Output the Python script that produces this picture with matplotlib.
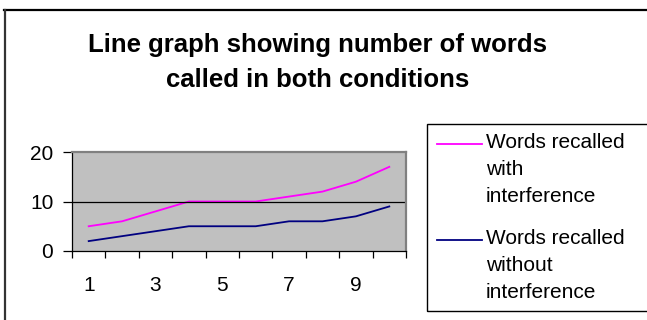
import matplotlib.pyplot as plt
from matplotlib.patches import Rectangle
from matplotlib.lines import Line2D

trials = [1, 2, 3, 4, 5, 6, 7, 8, 9, 10]
with_interference = [5, 6, 8, 10, 10, 10, 11, 12, 14, 17]
without_interference = [2, 3, 4, 5, 5, 5, 6, 6, 7, 9]
y_ticks = [0, 10, 20]
x_ticklabels = ["1", "", "3", "", "5", "", "7", "", "9", ""]
series_names = ["Words recalled\nwith\ninterference",
                "Words recalled\nwithout\ninterference"]

plt.rcParams['font.family'] = ['Liberation Sans', 'DejaVu Sans']

W, H = 647, 320
fig = plt.figure(figsize=(W / 100, H / 100), dpi=100)


def fx(px):
    return px / W


def fy(py):
    return 1 - py / H


# outer chart frame
fig.add_artist(Line2D([fx(4), fx(647)], [fy(9.5), fy(9.5)], color="black", lw=1.6))
fig.add_artist(Line2D([fx(4.5), fx(4.5)], [fy(9.5), fy(320)], color="#333333", lw=1.6))

fig.text(fx(318), fy(45), "Line graph showing number of words", ha="center", va="center",
         fontsize=18.5, fontweight="bold")
fig.text(fx(318), fy(80), "called in both conditions", ha="center", va="center",
         fontsize=18.5, fontweight="bold")

ax = fig.add_axes([fx(72), fy(251), fx(406) - fx(72), fy(152) - fy(251)])
ax.set_facecolor("#C0C0C0")
ax.plot(trials, with_interference, color="#FF00FF", lw=1.3)
ax.plot(trials, without_interference, color="#000080", lw=1.3)
ax.set_xlim(0.5, 10.5)
ax.set_ylim(0, 20)
ax.axhline(10, color="black", lw=0.9)

ax.set_yticks(y_ticks)
ax.set_yticklabels([str(v) for v in y_ticks], fontsize=15)
ax.tick_params(axis="y", direction="out", length=6.5, width=0.9, pad=7)

# category ticks sit between the points, labels under every other point
ax.set_xticks([t - 0.5 for t in trials] + [10.5])
ax.set_xticklabels([])
ax.set_xticks(trials, minor=True)
ax.set_xticklabels(x_ticklabels, minor=True, fontsize=15)
ax.tick_params(axis="x", which="major", direction="out", length=5, width=0.9)
ax.tick_params(axis="x", which="minor", length=0, pad=18)

for side in ("top", "right"):
    ax.spines[side].set_color("#808080")
    ax.spines[side].set_linewidth(1.6)
for side in ("left", "bottom"):
    ax.spines[side].set_color("black")
    ax.spines[side].set_linewidth(0.9)

# legend box
fig.add_artist(Rectangle((fx(427), fy(311)), fx(660) - fx(427), fy(124) - fy(311),
                         transform=fig.transFigure, fill=False, ec="black", lw=1.0))
colors = ["#FF00FF", "#000080"]
for i, (name, c) in enumerate(zip(series_names, colors)):
    y0 = 143.5 + i * 96
    fig.add_artist(Line2D([fx(437), fx(482)], [fy(y0), fy(y0)], color=c, lw=1.3))
    fig.text(fx(486), fy(y0 - 10), name, ha="left", va="top", fontsize=15, linespacing=1.5)

fig.savefig("out.png", dpi=100)
